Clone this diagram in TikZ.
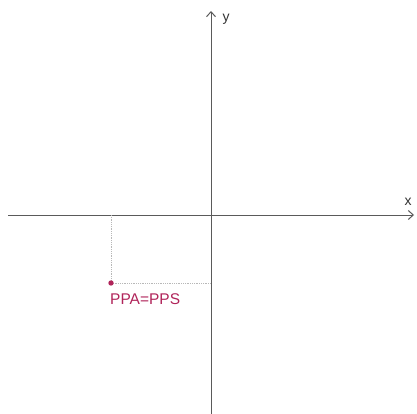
\documentclass[tikz,border=0pt]{standalone}
\usepackage{fontspec}
\setmainfont{Liberation Sans}
\usetikzlibrary{arrows.meta}
\definecolor{ptcol}{HTML}{B0245A}
\definecolor{axcol}{HTML}{5A5A5A}
\definecolor{guide}{HTML}{B8B8B8}
\tikzset{
  axis/.style={draw=axcol, line width=1pt, -{Straight Barb[length=5pt,width=9pt,line width=1pt]}},
  guideline/.style={draw=guide, line width=0.8pt, densely dotted},
  axlabel/.style={font=\fontsize{14pt}{16pt}\selectfont, text=black!80, inner sep=0pt},
  ptlabel/.style={font=\fontsize{15.5pt}{18pt}\selectfont, text=ptcol, inner sep=0pt, anchor=base west},
}
\begin{document}
\begin{tikzpicture}[x=1pt,y=-1pt]
\useasboundingbox (0,0) rectangle (417,414);
\coordinate (xs) at (8,215);
\coordinate (xe) at (414,215);
\coordinate (ys) at (211,414);
\coordinate (ye) at (211,11);
\coordinate (P) at (111,283);
\coordinate (Px) at (111,215);
\coordinate (Py) at (211,283);
\draw[axis] (xs) -- (xe);
\draw[axis] (ys) -- (ye);
\node[axlabel] (xl) at (408,202) {x};
\node[axlabel] (yl) at (226,19) {y};
\draw[guideline] (Px) -- (P);
\draw[guideline] (P) -- (Py);
\fill[ptcol] (P) circle (2.7pt);
\node[ptlabel] (pl) at (110,304) {PPA=PPS};
\end{tikzpicture}
\end{document}
